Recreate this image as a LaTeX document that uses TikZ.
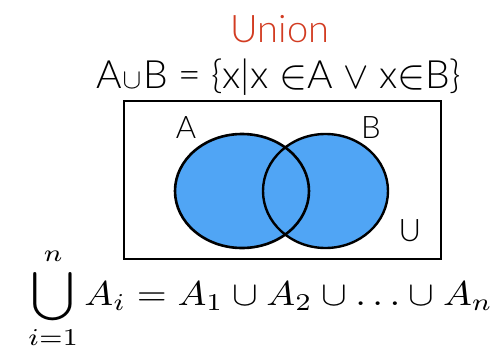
\documentclass[tikz,border=0pt]{standalone}
\usepackage[no-math]{fontspec}
\usepackage{graphicx}
\setmainfont{Lato Light}
\definecolor{unionred}{HTML}{D23C22}
\definecolor{setblue}{HTML}{50A5F5}
\newcommand{\symb}[2]{{\fontsize{10}{12}\selectfont\scalebox{#1}{$#2$}}}
\tikzset{
  setlabel/.style={font=\fontsize{31}{34}\selectfont, inner sep=0pt},
}
\begin{document}
\begin{tikzpicture}[x=1pt,y=-1pt]
\useasboundingbox (0,0) rectangle (495,351);
\node[anchor=base, text=unionred, font=\fontsize{38}{40}\selectfont, inner sep=0pt] (title) at (280,42) {Union};
\node[anchor=base, font=\fontsize{39}{41}\selectfont, inner sep=0pt] (def) at (278.5,88)
  {A\kern1pt\symb{2.8}{\cup}\kern2ptB = \{x|x \symb{4.2}{\in}A \symb{3.8}{\vee} x\symb{4.2}{\in}B\}};
\node[draw=black, line width=2pt, minimum width=317pt, minimum height=158pt, inner sep=0pt] (universe) at (282.5,180) {};
\fill[setblue] (242,191) ellipse [x radius=67, y radius=57];
\fill[setblue] (325.5,191) ellipse [x radius=62.5, y radius=57];
\draw[line width=2.6pt] (242,191) ellipse [x radius=67, y radius=57];
\draw[line width=2.4pt] (325.5,191) ellipse [x radius=62.5, y radius=57];
\node[setlabel] (labA) at (186,128) {A};
\node[setlabel] (labB) at (371,128) {B};
\node[setlabel] (labU) at (410,231) {U};
\node[anchor=base west, inner sep=0pt] (formula) at (28,305)
  {\fontsize{10}{12}\selectfont\scalebox{3.85}[3.45]{$\displaystyle\bigcup_{i=1}^{n} A_i = A_1\cup A_2\cup\ldots\cup A_n$}};
\end{tikzpicture}
\end{document}
